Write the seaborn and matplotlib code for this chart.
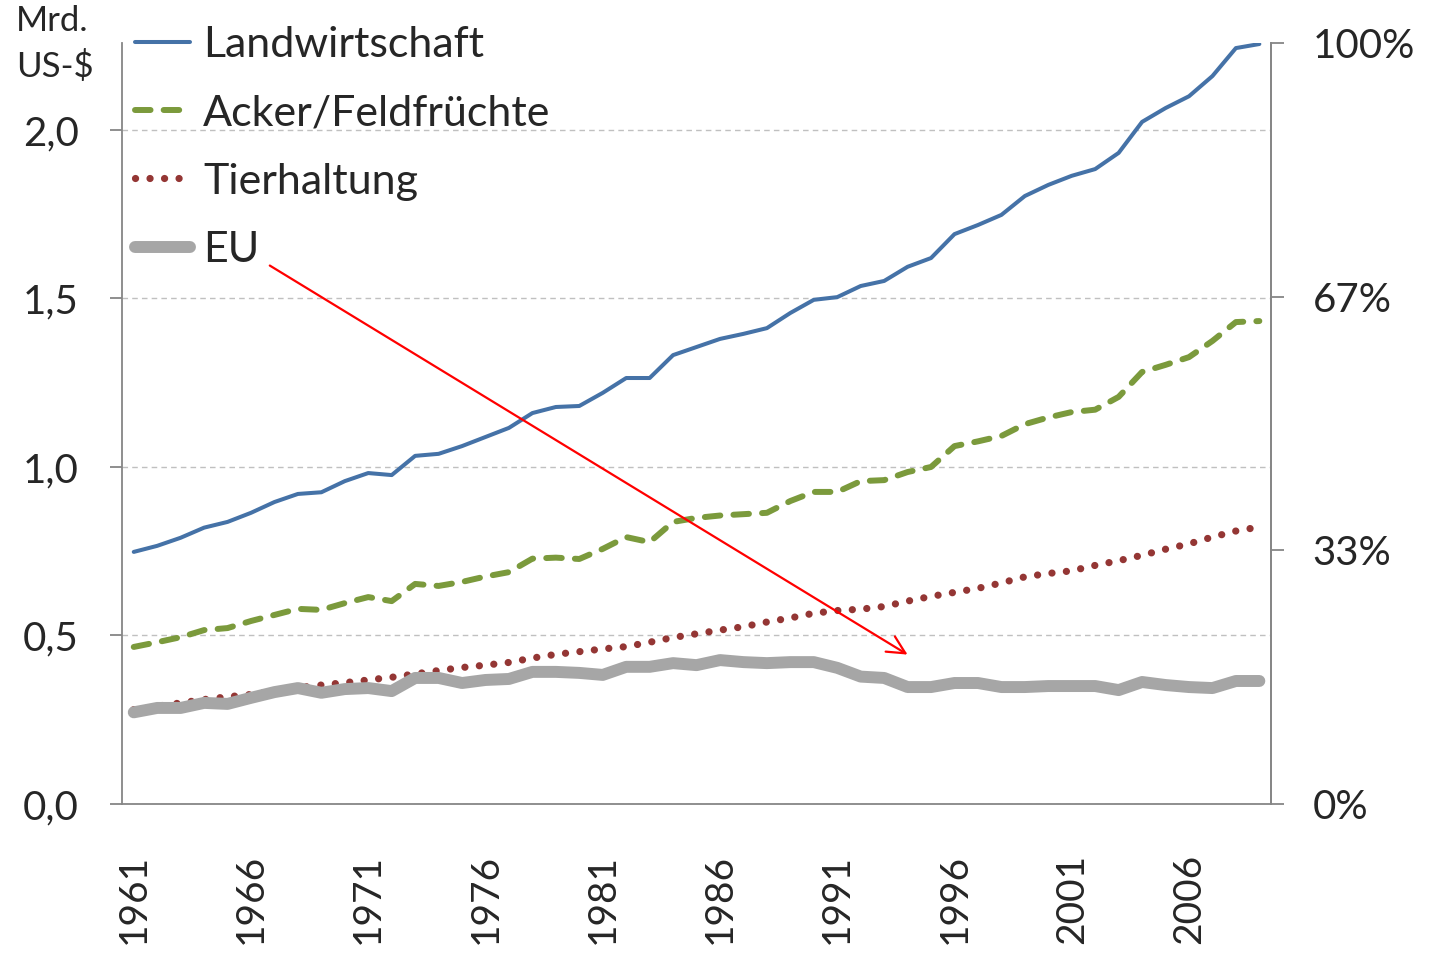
import matplotlib
matplotlib.use("Agg")
import numpy as np
import pandas as pd
import matplotlib.pyplot as plt
from matplotlib.ticker import FuncFormatter
import seaborn as sns

# Daten (Mrd. US-$)
jahre = list(range(1961, 2010))

landwirtschaft = [0.748, 0.766, 0.790, 0.820, 0.837, 0.864, 0.896, 0.920, 0.925, 0.958,
                  0.982, 0.976, 1.033, 1.039, 1.062, 1.089, 1.116, 1.160, 1.178, 1.181,
                  1.220, 1.264, 1.264, 1.332, 1.356, 1.380, 1.395, 1.412, 1.457, 1.496,
                  1.504, 1.537, 1.552, 1.594, 1.620, 1.691, 1.718, 1.748, 1.804, 1.837,
                  1.864, 1.884, 1.932, 2.024, 2.065, 2.100, 2.160, 2.243, 2.255]

acker = [0.466, 0.480, 0.495, 0.516, 0.522, 0.543, 0.561, 0.579, 0.576, 0.596,
         0.614, 0.602, 0.653, 0.647, 0.659, 0.675, 0.688, 0.728, 0.731, 0.727,
         0.757, 0.792, 0.777, 0.837, 0.849, 0.856, 0.860, 0.864, 0.899, 0.926,
         0.926, 0.958, 0.961, 0.985, 1.000, 1.062, 1.076, 1.092, 1.127, 1.147,
         1.163, 1.170, 1.208, 1.282, 1.303, 1.326, 1.374, 1.430, 1.433]

tierhaltung = [0.280, 0.290, 0.300, 0.310, 0.318, 0.325, 0.335, 0.345, 0.353, 0.360,
               0.368, 0.376, 0.386, 0.396, 0.405, 0.412, 0.420, 0.433, 0.444, 0.452,
               0.460, 0.467, 0.480, 0.494, 0.505, 0.516, 0.526, 0.540, 0.552, 0.566,
               0.574, 0.578, 0.586, 0.602, 0.616, 0.628, 0.640, 0.656, 0.674, 0.684,
               0.692, 0.708, 0.722, 0.738, 0.756, 0.772, 0.792, 0.810, 0.822]

eu = [0.272, 0.285, 0.285, 0.300, 0.297, 0.315, 0.332, 0.344, 0.330, 0.341,
      0.344, 0.335, 0.374, 0.374, 0.359, 0.368, 0.371, 0.392, 0.392, 0.389,
      0.383, 0.407, 0.407, 0.418, 0.412, 0.427, 0.421, 0.418, 0.421, 0.421,
      0.404, 0.378, 0.374, 0.347, 0.347, 0.359, 0.359, 0.347, 0.347, 0.350,
      0.350, 0.350, 0.338, 0.362, 0.353, 0.347, 0.344, 0.365, 0.365]

y_ticks = [0.0, 0.5, 1.0, 1.5, 2.0]
pct_ticks = [0, 1 / 3, 2 / 3, 1]
pct_labels = ["0%", "33%", "67%", "100%"]
x_ticks = list(range(1961, 2010, 5))

df = pd.DataFrame({"Jahr": jahre, "Landwirtschaft": landwirtschaft,
                   "Acker/Feldfrüchte": acker, "Tierhaltung": tierhaltung, "EU": eu})

sns.set_style("white")
plt.rcParams["font.family"] = ["Lato", "DejaVu Sans"]

fig = plt.figure(figsize=(14.39, 9.56), dpi=100)
ax = fig.add_axes([0.0848, 0.159, 0.7985, 0.796])

ymax = 2.258

# Linien
sns.lineplot(data=df, x="Jahr", y="Landwirtschaft", ax=ax, color="#4572a7",
             lw=2.9, label="Landwirtschaft", zorder=5)
sns.lineplot(data=df, x="Jahr", y="Acker/Feldfrüchte", ax=ax, color="#7b9a3c",
             lw=4.3, linestyle=(0, (2.6, 2.2)), dash_capstyle="round",
             label="Acker/Feldfrüchte", zorder=4)
sns.lineplot(data=df, x="Jahr", y="Tierhaltung", ax=ax, color="#943634",
             lw=5.2, linestyle=(0, (0.01, 2.0)), dash_capstyle="round",
             label="Tierhaltung", zorder=3)
sns.lineplot(data=df, x="Jahr", y="EU", ax=ax, color="#a6a6a6",
             lw=8.6, solid_capstyle="round", label="EU", zorder=6)

ax.set_xlim(1960.5, 2009.5)
ax.set_ylim(0, ymax)
ax.set_xlabel("")
ax.set_ylabel("")

ax.set_yticks(y_ticks)
ax.yaxis.set_major_formatter(FuncFormatter(lambda v, p: f"{v:.1f}".replace(".", ",")))
ax.set_xticks(x_ticks)
ax.set_xticklabels([str(j) for j in x_ticks], rotation=90)

ax.grid(axis="y", color="#c0c0c0", linestyle=(0, (4, 3)), lw=1.0)
ax.grid(axis="x", visible=False)

for s in ["left", "bottom", "right"]:
    ax.spines[s].set_color("#868686")
    ax.spines[s].set_linewidth(1.3)
ax.spines["top"].set_visible(False)

ax.tick_params(axis="y", direction="out", length=9, width=1.3, color="#868686",
               labelsize=29, pad=22, left=True)
ax.tick_params(axis="x", length=0, labelsize=28, pad=36)

# rechte Achse (Prozent)
ax2 = ax.twinx()
ax2.set_ylim(0, 1)
ax2.set_yticks(pct_ticks)
ax2.set_yticklabels(pct_labels)
ax2.tick_params(axis="y", direction="out", length=9, width=1.3, color="#868686",
                labelsize=29, pad=21, right=True)
ax2.grid(False)
for s in ["left", "bottom", "top"]:
    ax2.spines[s].set_visible(False)
ax2.spines["right"].set_color("#868686")
ax2.spines["right"].set_linewidth(1.3)

# Pfeil
ax.annotate("", xy=(1994.1, 0.439), xytext=(1966.7, 1.602),
            arrowprops=dict(arrowstyle="->", color="red", lw=1.6,
                            mutation_scale=32), zorder=10)

# Legende
handles, labels = ax.get_legend_handles_labels()
leg = ax.legend(handles, labels, loc="upper left", bbox_to_anchor=(0.0113, 1.022),
                frameon=False, fontsize=31, handlelength=1.28, handletextpad=0.3,
                labelspacing=0.7, borderpad=0, borderaxespad=0)

fig.text(0.011, 0.995, "Mrd.\nUS-$", fontsize=25, va="top", ha="left",
         linespacing=1.5)

fig.savefig("out.png", dpi=100)
